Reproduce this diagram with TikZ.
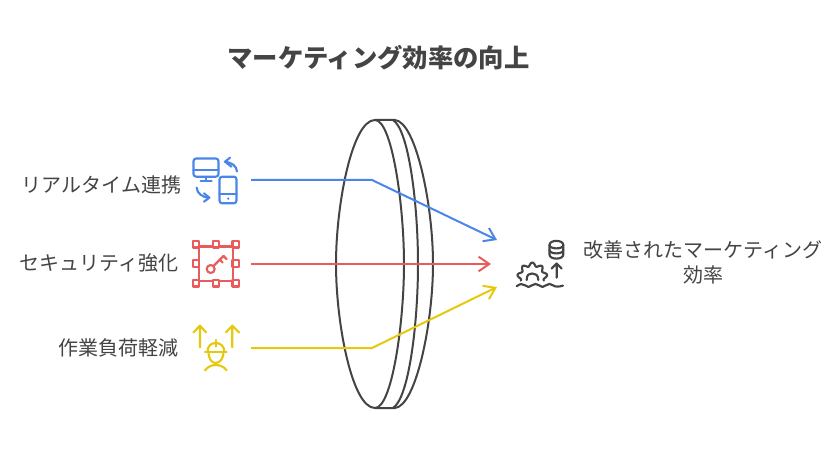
\documentclass[tikz,border=0pt]{standalone}
\usepackage{fontspec}
\setmainfont{Noto Sans CJK JP}
\usetikzlibrary{arrows.meta}
\definecolor{cblue}{HTML}{4A86E8}
\definecolor{cred}{HTML}{E85C5C}
\definecolor{cyellow}{HTML}{E6C90E}
\definecolor{cgray}{HTML}{444444}
\tikzset{
  x=0.75pt,y=-0.75pt,
  lbl/.style={text=cgray,font=\fontsize{15}{19}\selectfont,inner sep=0pt,align=center},
  ttl/.style={text=cgray,font=\fontsize{19}{22}\selectfont\bfseries,inner sep=0pt},
  lens/.style={draw=cgray,line width=1.5pt,line join=round},
  conn/.style={line width=1.5pt,line join=round,-{Straight Barb[length=8pt,width=11pt,line width=1.5pt]}},
  ico/.style={line width=1.6pt,line cap=round,line join=round},
}
\begin{document}
\begin{tikzpicture}
\useasboundingbox (0,0) rectangle (828,456);
\fill[white] (0,0) rectangle (828,456);
\node[ttl] (title) at (378.5,58) {マーケティング効率の向上};
% lens
\draw[lens] (375,120) .. controls (352,120) and (336,205) .. (336,264) .. controls (336,323) and (352,408) .. (375,408)
  .. controls (392,408) and (404,323) .. (404,264) .. controls (404,205) and (392,120) .. (375,120) -- (395,120)
  .. controls (416,122) and (433,205) .. (433,264) .. controls (433,323) and (416,406) .. (395,408) -- (375,408);
\draw[lens] (393,120) .. controls (409,130) and (418,205) .. (418,264) .. controls (418,323) and (409,398) .. (393,408);
% labels
\node[lbl,anchor=east] (l1) at (181.5,185) {リアルタイム連携};
\node[lbl,anchor=east] (l2) at (179,262.5) {セキュリティ強化};
\node[lbl,anchor=east] (l3) at (179,347.5) {作業負荷軽減};
\node[lbl] (r) at (703,262.5) {改善されたマーケティング\\効率};
% connectors
\coordinate (a1) at (251,180);\coordinate (b1) at (372,180);\coordinate (c1) at (497,240);
\coordinate (a2) at (251,264);\coordinate (c2) at (491,264);
\coordinate (a3) at (251,348);\coordinate (b3) at (372,348);\coordinate (c3) at (497,287);
\draw[conn,cblue] (a1) -- (b1) -- (c1);
\draw[conn,cred] (a2) -- (c2);
\draw[conn,cyellow] (a3) -- (b3) -- (c3);
% blue icon
\begin{scope}[ico,cblue]
\draw[rounded corners=2pt] (193.5,158.5) rectangle (218.5,176.7);
\draw (193.5,170) -- (218.5,170);
\draw (206,176.7) -- (206,181) (200.7,181) -- (211.7,181);
\draw[rounded corners=2pt] (219.5,176.7) rectangle (236.5,203.3);
\draw (219.5,194.3) -- (236.5,194.3);
\fill (228.2,198.6) circle (1.2);
\draw (237,171.5) .. controls (236.5,166) and (232,162.5) .. (225,161.7);
\draw (230,157.7) -- (225,161.7) -- (231.5,166.7);
\draw (196.7,187.7) .. controls (197,193) and (202,197.5) .. (209.3,197.7);
\draw (204,193.3) -- (209.3,197.7) -- (204,201.7);
\end{scope}
% red icon
\begin{scope}[ico,cred]
\draw (199,246.5) rectangle (233,281);
\foreach \hx/\hy in {196/244.3,216/244.3,235.7/244.3,196/263.5,235.7/263.5,196/283.3,216/283.3,235.7/283.3}
  \draw[fill=white] (\hx-3.2,\hy-3.2) rectangle (\hx+3.2,\hy+3.2);
\draw (210.7,269) circle (4);
\draw (213.5,266) -- (223.5,256);
\draw (219.5,259.5) -- (222.7,262.5);
\draw (223.5,256) -- (226.5,259);
\end{scope}
% yellow icon
\begin{scope}[ico,cyellow]
\draw (200,347.3) -- (200,325.7) (193.5,332.3) -- (200,325.7) -- (206,332.3);
\draw (232.3,347.3) -- (232.3,325.7) (226,332.3) -- (232.3,325.7) -- (239,332.3);
\draw (205,351.8) -- (226.7,351.8);
\draw (207.5,351.8) .. controls (207.5,346) and (211,343) .. (215.7,343) .. controls (220.5,343) and (224.3,346) .. (224.3,351.8);
\draw (215.7,340) -- (215.7,346.5);
\draw (208.5,352.5) .. controls (208.5,358) and (211.5,363) .. (215.7,363) .. controls (220,363) and (223.5,358) .. (223.5,352.5);
\draw (205,370.3) .. controls (208,366.5) and (212,365) .. (215.7,365) .. controls (219.5,365) and (224,366.5) .. (226.7,370.3);
\end{scope}
% gray icon
\begin{scope}[ico,cgray]
\draw (549.5,245) .. controls (549.5,239.5) and (563.3,239.5) .. (563.3,245) -- (563.3,254.5) .. controls (563.3,260) and (549.5,260) .. (549.5,254.5) -- cycle;
\draw (549.5,245) .. controls (549.5,249.5) and (563.3,249.5) .. (563.3,245);
\draw (549.5,250) .. controls (549.5,254.5) and (563.3,254.5) .. (563.3,250);
\draw (556.7,277.7) -- (556.7,263.5) (551.7,268.5) -- (556.7,263.5) -- (561.7,268.5);
\draw plot[smooth,samples=60,domain=195:-15,variable=\t] ({532.3+(13.2+1.8*cos(9*(\t-90)))*cos(\t)},{277.5-(13.2+1.8*cos(9*(\t-90)))*sin(\t)});
\draw (526.7,280) .. controls (526.7,274.5) and (529,273.5) .. (532,273.5) .. controls (535,273.5) and (538.3,274.5) .. (538.3,280);
\draw (516.7,286.3) .. controls (520,283.5) and (523,283.5) .. (525,285.3) .. controls (527,287.5) and (530,287.5) .. (532,285.3) .. controls (534,283.5) and (537,283.5) .. (539,285.3) .. controls (541,287.5) and (544,287.5) .. (546,285.3) .. controls (548,283.5) and (551,283.5) .. (553,285.3) .. controls (555,287) and (559,287) .. (563,285.6);
\end{scope}
\end{tikzpicture}
\end{document}
